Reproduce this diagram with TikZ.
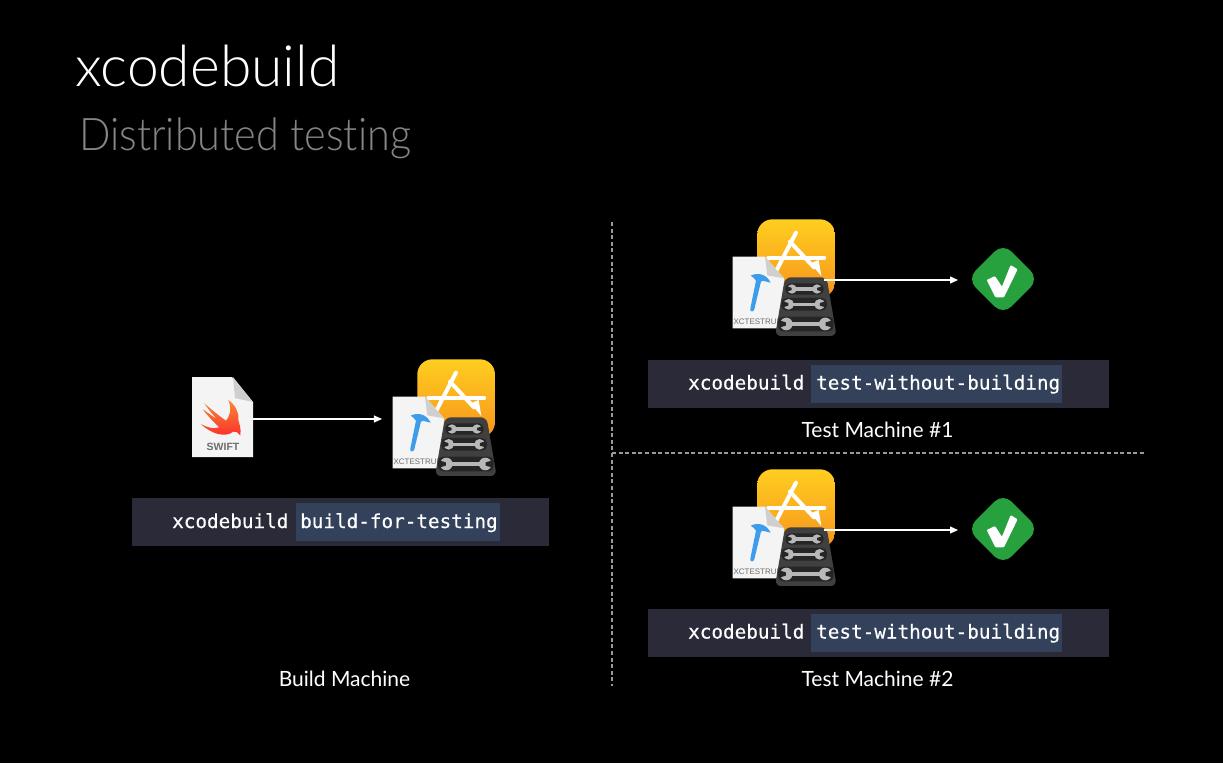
\documentclass[tikz,border=0pt]{standalone}
\usepackage{fontspec}
\setmainfont{Lato Light}
\newfontfamily\subfont[FakeStretch=0.92,Ligatures=NoCommon]{Lato Light}
\newfontfamily\labelfont{Lato}
\newfontfamily\swiftfont{Liberation Sans}
\setmonofont[FakeBold=0.35]{DejaVu Sans Mono}
\usetikzlibrary{arrows.meta,shapes.geometric}
\definecolor{barc}{HTML}{2A2A38}
\definecolor{hlc}{HTML}{33415A}
\definecolor{dotc}{HTML}{9A9A9A}
\definecolor{sub}{HTML}{858585}
\definecolor{okc}{HTML}{27A03E}
\definecolor{docc}{HTML}{F4F4F4}
\definecolor{foldc}{HTML}{CFCFCF}
\definecolor{hammer}{HTML}{3E9DEB}
\definecolor{trayc}{HTML}{404040}
\definecolor{slotc}{HTML}{262626}
\definecolor{wrenc}{HTML}{B8B8B8}
\definecolor{apptop}{HTML}{FFCE1F}
\definecolor{appbot}{HTML}{F7941D}
\definecolor{swifttop}{HTML}{F88A36}
\definecolor{swiftbot}{HTML}{FB2B2B}
\definecolor{filetext}{HTML}{6E6E6E}
\newcommand{\wrenchdraw}[4]{%
  \fill[slotc,rounded corners=5pt] (#1-6,#3-#4-3) rectangle (#2+6,#3+#4+3);
  \draw[wrenc,line width=3.5pt] (#1+#4,#3) -- (#2-#4,#3);
  \fill[wrenc] (#1+#4,#3) circle (#4);
  \fill[wrenc] (#2-#4,#3) circle (#4);
  \fill[slotc] (#1-1,#3-#4*0.55) -- (#1+#4*0.95,#3-#4*0.25) -- (#1+#4*0.95,#3+#4*0.25) -- (#1-1,#3+#4*0.55) -- cycle;
  \fill[slotc] (#2+1,#3-#4*0.55) -- (#2-#4*0.95,#3-#4*0.25) -- (#2-#4*0.95,#3+#4*0.25) -- (#2+1,#3+#4*0.55) -- cycle;
}
\tikzset{
  x=1pt,y=-1pt,
  barbox/.style={fill=barc,draw=none,minimum width=417pt,minimum height=48pt,inner sep=0pt},
  hlbox/.style={fill=hlc,draw=none,minimum height=38pt,inner sep=0pt},
  code/.style={text=white,font=\ttfamily\fontsize{19.3}{22}\selectfont,inner sep=0pt,anchor=base west},
  machine/.style={text=white,font=\labelfont\fontsize{21}{24}\selectfont,inner sep=0pt,anchor=base},
  flow/.style={draw=white,line width=1.1pt,-{Triangle[length=8pt,width=7pt]}},
  divider/.style={draw=dotc,line width=1.3pt,dash pattern=on 4pt off 2.6pt},
  okmark/.style={diamond,fill=okc,draw=none,minimum width=72pt,minimum height=72pt,inner sep=0pt,rounded corners=12pt},
  tick/.pic={
    \begin{scope}[x=0.3333pt,y=-0.3333pt]
      \fill[white,rounded corners=1pt] (800,210) -- (825,198) -- (846,230) -- (872,165) -- (893,178) -- (852,262) -- (826,262) -- cycle;
    \end{scope}
  },
  bundle/.pic={
    \begin{scope}[x=0.3333pt,y=-0.3333pt]
      % app icon
      \shade[top color=apptop,bottom color=appbot,rounded corners=15pt] (742,28) rectangle (975,262);
      \begin{scope}[line cap=round]
        \draw[white,line width=3.8pt] (775,143) -- (943,143);
        \draw[white,line width=4pt] (858,68) -- (795,190);
        \draw[white,line width=4pt] (840,95) -- (912,172);
        \fill[white] (902,160) -- (926,150) -- (934,198) -- cycle;
      \end{scope}
      % test file
      \fill[docc] (668,140) -- (765,140) -- (822,205) -- (822,355) -- (668,355) -- cycle;
      \fill[foldc] (765,140) -- (822,205) -- (772,196) -- cycle;
      \fill[hammer] (722,197) .. controls (745,186) and (770,193) .. (782,218) -- (766,214)
        .. controls (760,212) and (756,212) .. (753,215) -- (733,298)
        .. controls (730,308) and (719,306) .. (721,296) -- (738,212)
        .. controls (734,205) and (728,201) .. (722,197) -- cycle;
      \node[anchor=base west,inner sep=0pt,text=filetext,font=\swiftfont\fontsize{8}{9}\selectfont] at (670,344) {XCTESTRUN};
      % tray
      \fill[trayc,rounded corners=6pt] (825,202) -- (950,202) -- (980,378) -- (795,378) -- cycle;
      \wrenchdraw{832}{935}{237}{14}
      \wrenchdraw{820}{945}{283}{16}
      \wrenchdraw{810}{965}{342}{19}
      \coordinate (-in) at (636,207);
      \coordinate (-out) at (978,207);
    \end{scope}
  }
}
\begin{document}
\begin{tikzpicture}
\useasboundingbox (0,0) rectangle (1223,763);
\fill[black] (0,0) rectangle (1223,763);
% titles
\node[anchor=base west,inner sep=0pt,text=white,font=\fontsize{57}{60}\selectfont] (title) at (75,86) {xcodebuild};
\node[anchor=base west,inner sep=0pt,text=sub,font=\subfont\fontsize{45}{50}\selectfont] (subtitle) at (79,150) {Distributed testing};
% dividers
\coordinate (vtop) at (612,222);
\coordinate (vbot) at (612,686);
\coordinate (hleft) at (612,453);
\coordinate (hright) at (1145,453);
\draw[divider] (vtop) -- (vbot);
\draw[divider] (hleft) -- (hright);
% build machine
\node[barbox] (bar1) at (340.5,522) {};
\node[hlbox,minimum width=204pt] (hl1) at (398,522) {};
\node[code] (c1a) at (172,528) {xcodebuild};
\node[code] (c1b) at (300,528) {build-for-testing};
\node[minimum width=60pt,minimum height=80pt,inner sep=0pt] (swift) at (222.5,417) {};
\fill[docc] (192,377) -- (232,377) -- (253,402) -- (253,457) -- (192,457) -- cycle;
\fill[foldc] (233,377) -- (253,402) -- (235,398) -- cycle;
\begin{scope}[shift={(170,350)},x=0.3333pt,y=-0.3333pt]
  \shade[top color=swifttop,bottom color=swiftbot]
    (92,222) .. controls (125,252) and (165,264) .. (190,245)
    .. controls (198,243) and (206,248) .. (211,256)
    .. controls (214,235) and (208,222) .. (205,210)
    .. controls (208,185) and (195,165) .. (175,150)
    .. controls (187,180) and (178,200) .. (168,212)
    .. controls (150,200) and (120,175) .. (103,160)
    .. controls (120,185) and (130,195) .. (140,207)
    .. controls (125,198) and (110,185) .. (98,178)
    .. controls (115,200) and (135,220) .. (148,232)
    .. controls (130,238) and (110,232) .. (92,222) -- cycle;
\end{scope}
\node[inner sep=0pt,text=filetext,font=\swiftfont\bfseries\fontsize{10.5}{12}\selectfont] (swiftlabel) at (223,447) {SWIFT};
\pic (b1) at (170,350) {bundle};
\draw[flow] (swift.east |- b1-in) -- (b1-in);
\node[machine] (m1) at (344.5,686) {Build Machine};
% test machine 1
\node[barbox,minimum width=461pt] (bar2) at (878,383.5) {};
\node[hlbox,minimum width=251pt] (hl2) at (936.5,383.5) {};
\node[code] (c2a) at (688,389.5) {xcodebuild};
\node[code] (c2b) at (816,389.5) {test-without-building};
\pic (b2) at (510,210) {bundle};
\node[okmark] (ok1) at (1003,279) {};
\pic at (720,210) {tick};
\coordinate (arr1) at (958,280);
\draw[flow] (b2-out |- arr1) ++(-12pt,0) coordinate (s2) -- (arr1);
\node[machine] (m2) at (877.5,437) {Test Machine \#1};
% test machine 2
\node[barbox,minimum width=461pt] (bar3) at (878,632.5) {};
\node[hlbox,minimum width=251pt] (hl3) at (936.5,632.5) {};
\node[code] (c3a) at (688,638.5) {xcodebuild};
\node[code] (c3b) at (816,638.5) {test-without-building};
\pic (b3) at (510,460) {bundle};
\node[okmark] (ok2) at (1003,529) {};
\pic at (720,460) {tick};
\coordinate (arr2) at (958,530);
\draw[flow] (b3-out |- arr2) ++(-12pt,0) coordinate (s3) -- (arr2);
\node[machine] (m3) at (877.5,686) {Test Machine \#2};
\end{tikzpicture}
\end{document}
